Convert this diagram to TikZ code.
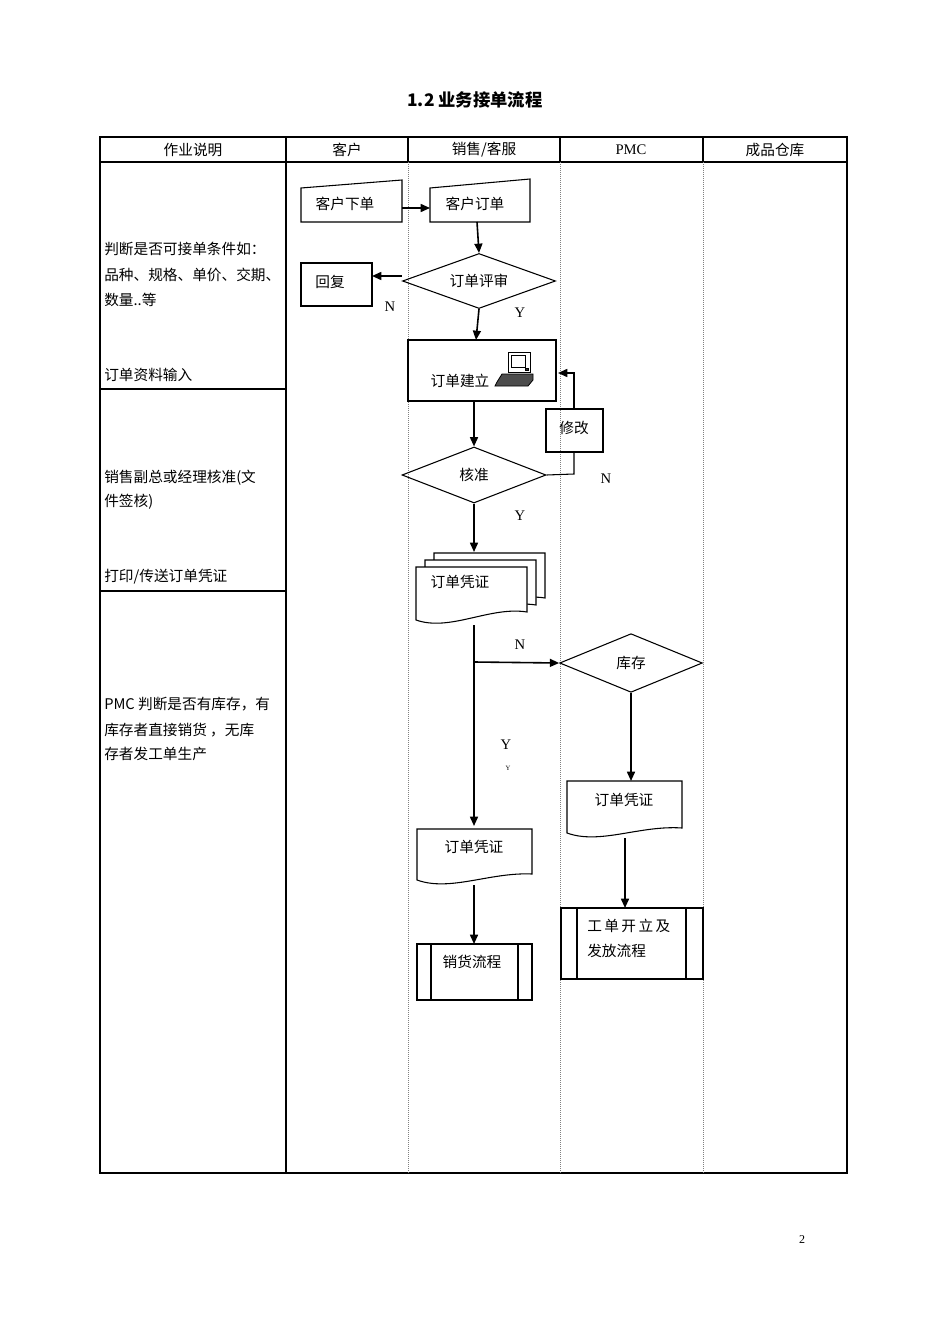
\documentclass[tikz,border=0pt]{standalone}
\usepackage{fontspec}
\setmainfont{Liberation Serif}
\newfontfamily\cjk{Noto Sans CJK SC}
\usetikzlibrary{arrows.meta,shapes.geometric}
\begin{document}
\begin{tikzpicture}[x=0.75pt,y=-0.75pt,
  txt/.style={font=\cjk\fontsize{11}{13}\selectfont,inner sep=0pt},
  lbl/.style={font=\fontsize{11}{13}\selectfont,inner sep=0pt},
  ln/.style={line width=0.8pt},
  arr/.style={line width=1.2pt,-{Triangle[length=7pt,width=6pt]}},
  dsh/.style={densely dotted,gray,line width=0.5pt},
  dia/.style={draw,diamond,aspect=2.6,line width=0.8pt,inner sep=0pt,txt}]
\useasboundingbox (0,0) rectangle (950,1344);
% title
\node[font=\cjk\bfseries\fontsize{13}{15}\selectfont] (title) at (475,100) {1.2 业务接单流程};
\node[lbl,font=\fontsize{9}{11}\selectfont] (pg) at (802,1240) {2};
% table
\draw[ln] (100,137) rectangle (847,1173);
\draw[ln] (100,162) -- (847,162);
\draw[ln] (286,137) -- (286,1173);
\draw[ln] (408,137) -- (408,162) (560,137) -- (560,162) (703,137) -- (703,162);
\draw[dsh] (408,162) -- (408,1173) (560,162) -- (560,1173) (703,162) -- (703,1173);
\draw[line width=1pt] (100,389) -- (286,389) (100,591) -- (286,591);
\node[txt] (h1) at (193,150) {作业说明};
\node[txt] (h2) at (347,150) {客户};
\node[txt] (h3) at (484,150) {销售/客服};
\node[lbl] (h4) at (631,150) {PMC};
\node[txt] (h5) at (775,150) {成品仓库};
% left notes
\begin{scope}[every node/.style={txt,anchor=west}]
\node (n1) at (104,249) {判断是否可接单条件如：};
\node (n2) at (104,275) {品种、规格、单价、交期、};
\node (n3) at (104,300) {数量..等};
\node (n4) at (104,375) {订单资料输入};
\node (n5) at (104,478) {销售副总或经理核准(文};
\node (n6) at (104,502) {件签核)};
\node (n7) at (104,577) {打印/传送订单凭证};
\node (n8) at (104,704) {PMC 判断是否有库存，有};
\node (n9) at (104,730) {库存者直接销货 ，无库};
\node (n10) at (104,754) {存者发工单生产};
\end{scope}
% manual inputs
\draw[ln] (301,188) -- (402,180) -- (402,222) -- (301,222) -- cycle;
\node[txt] (khxd) at (345,204) {客户下单};
\draw[ln] (430,188) -- (530,179) -- (530,222) -- (430,222) -- cycle;
\node[txt] (khdd) at (475,204) {客户订单};
\coordinate (khxdR) at (402,208); \coordinate (khddL) at (430,208);
\draw[arr] (khxdR) -- (khddL);
% review
\node[dia,minimum width=153pt*0.75/0.75*0.75,minimum height=55*0.75pt] (ddps) at (479,281) {订单评审};
\coordinate (khddB) at (477,222);
\draw[arr] (khddB) -- (ddps.north);
\draw[ln] (301,263) rectangle (372,306);
\node[txt] (hf) at (330,282) {回复};
\coordinate (hfR) at (372,276);
\draw[arr] (ddps.west) ++(0,-5) -- (hfR);
\node[lbl] (N1) at (390,307) {N};
\node[lbl] (Y1) at (520,313) {Y};
% create
\draw[ln] (408,340) rectangle (556,401);
\node[txt] (ddjl) at (460,381) {订单建立};
\coordinate (ddjlT) at (476,340);
\draw[arr] (ddps.south) ++(0,0) -- (476,340);
% computer icon
\begin{scope}[line width=0.6pt]
\draw[fill=white] (508,352) rectangle (530,372);
\draw[fill=white] (511,355) rectangle (525,367);
\draw[fill=black!80] (525,368) rectangle (528,370);
\draw[fill=black!70] (497,382) -- (502,374) -- (533,374) -- (533,380) -- (528,386) -- (495,386) -- cycle;
\end{scope}
% approve
\node[dia,minimum width=108pt,minimum height=42pt] (hz) at (474,475) {核准};
\coordinate (ddjlB) at (474,401);
\draw[arr] (ddjlB) -- (hz.north);
\draw[ln] (546,409) rectangle (603,452);
\node[txt] (xg) at (574,428) {修改};
\coordinate (xgB) at (574,452); \coordinate (xgT) at (574,409);
\coordinate (ddjlR) at (558,373);
\draw[ln] (hz.east) -- (574,474) -- (xgB);
\draw[arr] (xgT) -- (574,373) -- (ddjlR);
\node[lbl] (N2) at (606,479) {N};
\node[lbl] (Y2) at (520,516) {Y};
% multi document
\begin{scope}[ln]
\foreach \d in {18,9,0}{
\draw[fill=white] (416+\d,567-14*\d/18) -- (416+\d,620-14*\d/18) .. controls (450+\d,632-14*\d/18) and (490+\d,606-14*\d/18) .. (527+\d,612-14*\d/18) -- (527+\d,567-14*\d/18) -- cycle;}
\end{scope}
\node[txt] (ddpz1) at (460,582) {订单凭证};
\coordinate (mdT) at (474,552);
\draw[arr] (hz.south) -- (mdT);
% branch
\coordinate (mdB) at (474,625);
\coordinate (br) at (474,662);
\node[dia,minimum width=107pt,minimum height=44pt] (kc) at (631,663) {库存};
\coordinate (dp2T) at (474,826);
\draw[arr] (mdB) -- (dp2T);
\draw[arr] (br) -- (kc.west);
\node[lbl] (N3) at (520,645) {N};
\node[lbl] (Y3) at (506,745) {Y};
\node[lbl,font=\fontsize{5}{6}\selectfont] (y3) at (508,768) {Y};
% doc 3
\draw[ln] (567,781) -- (567,833) .. controls (600,845) and (640,825) .. (682,828) -- (682,781) -- cycle;
\node[txt] (ddpz3) at (624,800) {订单凭证};
\coordinate (dp3T) at (631,781);
\draw[arr] (kc.south) -- (dp3T);
\coordinate (dp3B) at (625,838); \coordinate (gdT) at (625,908);
\draw[arr] (dp3B) -- (gdT);
% predefined 工单
\draw[ln] (561,908) rectangle (703,979);
\draw[line width=1.4pt] (561,908) -- (703,908);
\draw[ln] (577,908) -- (577,979) (686,908) -- (686,979);
\node[txt,anchor=west] (gd1) at (587,926) {工\,单\,开\,立\,及};
\node[txt,anchor=west] (gd2) at (587,951) {发放流程};
% doc 2
\draw[ln] (417,829) -- (417,880) .. controls (450,892) and (490,872) .. (532,874) -- (532,829) -- cycle;
\node[txt] (ddpz2) at (474,847) {订单凭证};
\coordinate (dp2B) at (474,885); \coordinate (xhT) at (474,944);
\draw[arr] (dp2B) -- (xhT);
% 销货流程
\draw[line width=1.4pt] (417,944) rectangle (532,1000);
\draw[line width=1.2pt] (431,944) -- (431,1000);
\draw[ln] (518,944) -- (518,1000);
\node[txt] (xh) at (472,962) {销货流程};
\end{tikzpicture}
\end{document}
